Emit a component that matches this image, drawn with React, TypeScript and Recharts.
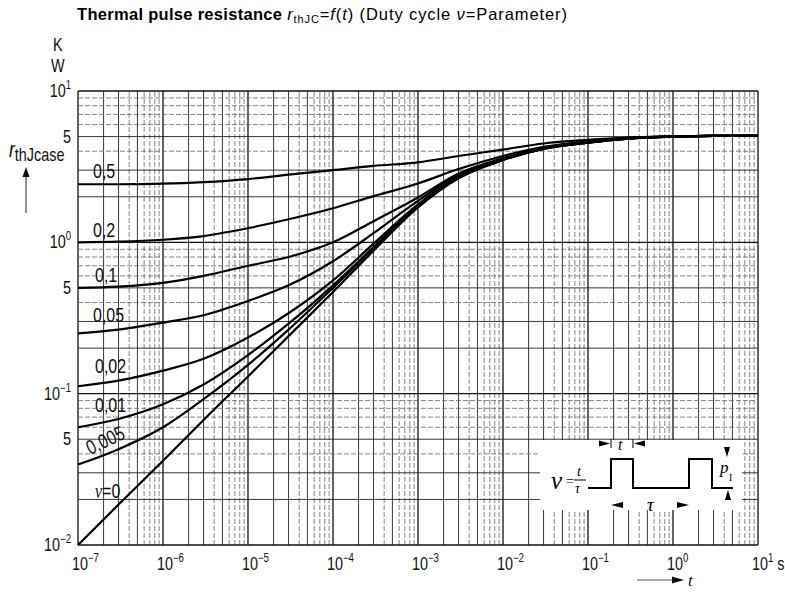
import React from 'react';
import { LineChart, Line, XAxis, YAxis, ReferenceLine } from 'recharts';

// time axis (s) and r_thJC values (K/W), one list per duty cycle
const times = [1e-7, 3e-7, 1e-6, 3e-6, 1e-5, 3e-5, 1e-4, 3e-4, 1e-3, 3e-3, 1e-2, 3e-2, 1e-1, 3e-1, 1, 3, 10];
const nu0 = [0.01, 0.0185, 0.036, 0.067, 0.13, 0.24, 0.47, 0.88, 1.7, 2.65, 3.5, 4.15, 4.55, 4.85, 5.0, 5.05, 5.05];
const nu0005 = [0.034, 0.043, 0.06, 0.092, 0.155, 0.265, 0.5, 0.91, 1.72, 2.67, 3.5, 4.15, 4.55, 4.85, 5.0, 5.05, 5.05];
const nu001 = [0.06, 0.068, 0.085, 0.115, 0.18, 0.29, 0.52, 0.93, 1.75, 2.7, 3.52, 4.16, 4.56, 4.86, 5.0, 5.05, 5.05];
const nu002 = [0.112, 0.122, 0.142, 0.17, 0.235, 0.34, 0.56, 0.98, 1.78, 2.72, 3.54, 4.17, 4.57, 4.86, 5.0, 5.05, 5.05];
const nu005 = [0.25, 0.265, 0.295, 0.33, 0.41, 0.52, 0.75, 1.15, 1.88, 2.8, 3.56, 4.18, 4.58, 4.87, 5.0, 5.05, 5.05];
const nu01 = [0.5, 0.51, 0.54, 0.6, 0.7, 0.8, 1.0, 1.38, 1.98, 2.85, 3.6, 4.2, 4.6, 4.88, 5.0, 5.05, 5.05];
const nu02 = [1.0, 1.01, 1.04, 1.1, 1.24, 1.42, 1.68, 2.02, 2.45, 3.05, 3.72, 4.28, 4.65, 4.9, 5.0, 5.05, 5.05];
const nu05 = [2.42, 2.42, 2.44, 2.5, 2.62, 2.8, 3.0, 3.2, 3.38, 3.72, 4.1, 4.5, 4.75, 4.92, 5.02, 5.05, 5.05];

const seriesKeys = ['nu0', 'nu0005', 'nu001', 'nu002', 'nu005', 'nu01', 'nu02', 'nu05'];
const seriesValues = [nu0, nu0005, nu001, nu002, nu005, nu01, nu02, nu05];

const xTicks = [1e-7, 1e-6, 1e-5, 1e-4, 1e-3, 1e-2, 1e-1, 1, 10];
const xTickExp = ['−7', '−6', '−5', '−4', '−3', '−2', '−1', '0', '1'];
const yTicks = [0.01, 0.05, 0.1, 0.5, 1, 5, 10];
const yTickLabels = [['10', '−2'], ['5', ''], ['10', '−1'], ['5', ''], ['10', '0'], ['5', ''], ['10', '1']];

const xDecades = [1e-7, 1e-6, 1e-5, 1e-4, 1e-3, 1e-2, 1e-1, 1];
const yDecades = [0.01, 0.1, 1];
const multipliers = [1, 2, 3, 4, 5, 6, 7, 8, 9];

const rows = times.map((t, i) => {
  const row: Record<string, number> = { t };
  seriesKeys.forEach((k, j) => {
    row[k] = seriesValues[j][i];
  });
  return row;
});

const SANS = "'Liberation Sans', Arial, sans-serif";
const SERIF = "'Liberation Serif', 'DejaVu Serif', serif";

function gridStyle(k: number) {
  if (k === 1) return { stroke: '#111', strokeWidth: 1.3 };
  if (k === 2 || k === 3 || k === 5) return { stroke: '#222', strokeWidth: 0.9 };
  return { stroke: '#666', strokeWidth: 0.8, strokeDasharray: '5 2' };
}

const gridX: { v: number; k: number }[] = [];
xDecades.forEach((d) => multipliers.forEach((k) => gridX.push({ v: d * k, k })));
gridX.push({ v: 10, k: 1 });
const gridY: { v: number; k: number }[] = [];
yDecades.forEach((d) => multipliers.forEach((k) => gridY.push({ v: d * k, k })));
gridY.push({ v: 10, k: 1 });

// condensed text: the scan uses a narrow DIN-like face
const CT = ({ x, y, anchor = 'start', size = 18, rotate = 0, children }: any) => (
  <text
    transform={`translate(${x} ${y}) rotate(${rotate}) scale(0.8 1)`}
    textAnchor={anchor}
    fontFamily={SANS}
    fontSize={size}
    fill="#111"
  >
    {children}
  </text>
);

const XTick = (props: any) => {
  const { x, y, index } = props;
  return (
    <CT x={x - 6} y={y + 25}>
      10
      <tspan dy={-8} fontSize={12}>{xTickExp[index]}</tspan>
      {index === xTicks.length - 1 ? <tspan dy={8} fontSize={18} dx={5}>s</tspan> : null}
    </CT>
  );
};

const YTick = (props: any) => {
  const { x, y, index } = props;
  const [base, exp] = yTickLabels[index];
  return (
    <CT x={x} y={y + 6} anchor="end">
      {base}
      {exp ? <tspan dy={-8} fontSize={12}>{exp}</tspan> : null}
    </CT>
  );
};

export default function App() {
  return (
    <div style={{ position: 'absolute', left: 0, top: 0, width: 785, height: 603, background: '#fff' }}>
      <LineChart width={785} height={603} data={rows} margin={{ top: 91, right: 27, bottom: 28, left: 8 }}>
        <XAxis
          dataKey="t"
          type="number"
          scale="log"
          domain={[1e-7, 10]}
          ticks={xTicks}
          interval={0}
          tick={<XTick />}
          tickLine={false}
          axisLine={false}
          tickSize={0}
          tickMargin={0}
          height={30}
        />
        <YAxis
          type="number"
          scale="log"
          domain={[0.01, 10]}
          ticks={yTicks}
          interval={0}
          tick={<YTick />}
          tickLine={false}
          axisLine={false}
          tickSize={0}
          tickMargin={7}
          width={70}
        />
        {gridX.map((g, i) => (
          <ReferenceLine key={'gx' + i} x={g.v} {...gridStyle(g.k)} />
        ))}
        {gridY.map((g, i) => (
          <ReferenceLine key={'gy' + i} y={g.v} {...gridStyle(g.k)} />
        ))}
        {seriesKeys.map((k) => (
          <Line
            key={k}
            dataKey={k}
            type="monotone"
            stroke="#000"
            strokeWidth={2.2}
            dot={false}
            activeDot={false}
            isAnimationActive={false}
          />
        ))}
      </LineChart>

      <svg width={785} height={603} style={{ position: 'absolute', left: 0, top: 0, pointerEvents: 'none' }}>
        {/* title */}
        <text x={77} y={20} fontFamily={SANS} fontSize={16.5} fill="#000">
          <tspan fontWeight="bold" letterSpacing={0.3}>Thermal pulse resistance </tspan>
          <tspan letterSpacing={0.9}>
            <tspan fontStyle="italic">r</tspan>
            <tspan fontSize={11} dy={3}>thJC</tspan>
            <tspan dy={-3}>=</tspan>
            <tspan fontStyle="italic">f</tspan>(<tspan fontStyle="italic">t</tspan>) (Duty cycle <tspan fontStyle="italic">ν</tspan>=Parameter)
          </tspan>
        </text>

        {/* y unit */}
        <CT x={53} y={51}>K</CT>
        <CT x={51} y={72}>W</CT>

        {/* y quantity */}
        <CT x={9} y={157} size={22}>
          <tspan fontStyle="italic">r</tspan>
          <tspan fontSize={18} dy={4}>thJcase</tspan>
        </CT>
        <line x1={26} y1={213} x2={26} y2={176} stroke="#555" strokeWidth={1.3} />
        <polygon points="26,167 22.5,177 29.5,177" fill="#111" />

        {/* curve labels */}
        <CT x={93} y={178} size={20}>0,5</CT>
        <CT x={93} y={237} size={20}>0,2</CT>
        <CT x={95} y={282} size={20}>0,1</CT>
        <CT x={93} y={322} size={20}>0,05</CT>
        <CT x={95} y={373} size={20}>0,02</CT>
        <CT x={95} y={412} size={20}>0,01</CT>
        <CT x={90} y={455} size={20} rotate={-25}>0,005</CT>
        <CT x={95} y={498} size={20}>
          <tspan fontFamily={SERIF} fontStyle="italic">ν</tspan>=0
        </CT>

        {/* pulse inset */}
        <rect x={540} y={440} width={202} height={70} fill="#fff" />
        <path d="M588,488 H611 V459 H633 V488 H689 V459 H712 V488 H733" fill="none" stroke="#000" strokeWidth={2} />
        <text x={551} y={489} fontFamily={SERIF} fontStyle="italic" fontSize={25} fill="#000">ν</text>
        <text x={566} y={486} fontFamily={SERIF} fontSize={14} fill="#000">=</text>
        <text x={577} y={476} fontFamily={SERIF} fontStyle="italic" fontSize={14} fill="#000">t</text>
        <line x1={574} y1={480} x2={586} y2={480} stroke="#000" strokeWidth={1} />
        <text x={575} y={493} fontFamily={SERIF} fontStyle="italic" fontSize={14} fill="#000">τ</text>
        <line x1={611} y1={439} x2={611} y2={448} stroke="#000" strokeWidth={1} />
        <line x1={633} y1={439} x2={633} y2={448} stroke="#000" strokeWidth={1} />
        <polygon points="610,443.5 599,440.5 599,446.5" fill="#000" />
        <polygon points="634,443.5 645,440.5 645,446.5" fill="#000" />
        <text x={618} y={450} fontFamily={SERIF} fontStyle="italic" fontSize={16} fill="#000">t</text>
        <polygon points="611,505 623,502 623,508" fill="#000" />
        <text x={647} y={511} fontFamily={SERIF} fontStyle="italic" fontSize={19} fill="#000">τ</text>
        <polygon points="689,505 677,502 677,508" fill="#000" />
        <text x={720} y={473} fontFamily={SERIF} fontStyle="italic" fontSize={17} fill="#000">p</text>
        <text x={729} y={481} fontFamily={SERIF} fontSize={10} fill="#000">I</text>
        <polygon points="727,457 724,447 730,447" fill="#000" />
        <polygon points="728,490 725,500 731,500" fill="#000" />

        {/* x quantity */}
        <line x1={637} y1={580} x2={673} y2={580} stroke="#555" strokeWidth={1.2} />
        <polygon points="684,580 672,576.5 672,583.5" fill="#111" />
        <text x={688} y={586} fontFamily={SERIF} fontStyle="italic" fontSize={17} fill="#111">t</text>
      </svg>
    </div>
  );
}
